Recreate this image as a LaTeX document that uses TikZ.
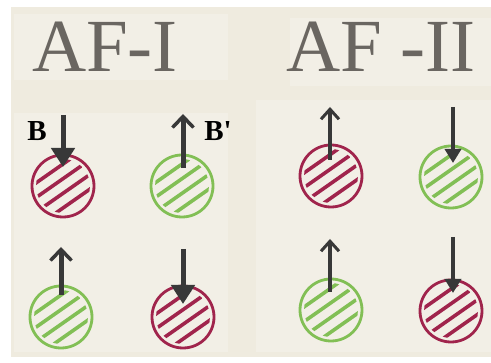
\documentclass[tikz,border=0pt]{standalone}
\usepackage{fontspec}
\newfontfamily\labfont{Liberation Serif}
\usetikzlibrary{arrows.meta}
\definecolor{cream}{HTML}{EFEBDF}
\definecolor{panel}{HTML}{F2EFE6}
\definecolor{spinred}{HTML}{A0244C}
\definecolor{spingreen}{HTML}{82BF55}
\definecolor{arrowgray}{HTML}{383838}
\definecolor{titlegray}{HTML}{6A6661}
\tikzset{
  atom/.style={circle, draw=#1, line width=2.8pt, minimum size=62pt, inner sep=0pt,
    path picture={
      \begin{scope}
        \clip (path picture bounding box.center) circle (27pt);
        \foreach \o in {-18,-6,6,18}{
          \draw[#1, line width=3.6pt]
            ([shift={({\o*0.574pt-36*0.819pt},{-\o*0.819pt-36*0.574pt})}]path picture bounding box.center)
            -- ++(59pt,41.3pt);
        }
      \end{scope}}},
  title/.style={font=\labfont\fontsize{75}{75}\selectfont, text=titlegray, anchor=base, inner sep=0pt},
  lab/.style={font=\labfont\fontsize{29}{29}\selectfont\bfseries, text=black, anchor=base, inner sep=0pt},
  bigdown/.style={draw=arrowgray, line width=5pt, -{Triangle[width=23pt,length=19pt]}},
  bigup/.style={draw=arrowgray, line width=5pt, -{Straight Barb[width=21pt,length=11pt,line width=3.5pt]}},
  smalldown/.style={draw=arrowgray, line width=3.5pt, -{Triangle[width=16pt,length=14pt]}},
  smallup/.style={draw=arrowgray, line width=3.5pt, -{Straight Barb[width=18pt,length=10pt,line width=3pt]}},
}
\begin{document}
\begin{tikzpicture}[x=1pt,y=-1pt]
\useasboundingbox (0,0) rectangle (491,363);
\fill[white] (0,0) rectangle (491,363);
\fill[cream] (11,7) rectangle (491,357);
\fill[panel] (14,14) rectangle (228,80);
\fill[panel] (290,18) rectangle (491,86);
\fill[panel] (14,113) rectangle (228,352);
\fill[panel] (256,100) rectangle (491,352);

\node[title] (t1) at (105,72) {AF-I};
\node[title] (t2) at (381,72) {AF -II};

% AF-I
\node[atom=spinred]   (c11) at (63,186) {};
\node[atom=spingreen] (c12) at (182,186) {};
\node[atom=spingreen] (c21) at (61,317) {};
\node[atom=spinred]   (c22) at (183,317) {};
% AF-II
\node[atom=spinred]   (d11) at (331,176) {};
\node[atom=spingreen] (d12) at (451,177) {};
\node[atom=spingreen] (d21) at (331,310) {};
\node[atom=spinred]   (d22) at (451,311) {};

\coordinate (a1s) at (63,115);  \coordinate (a1e) at (63,167);
\coordinate (a2s) at (183,168); \coordinate (a2e) at (183,114);
\coordinate (a3s) at (61,295);  \coordinate (a3e) at (61,247);
\coordinate (a4s) at (183,249); \coordinate (a4e) at (183,304);
\coordinate (b1s) at (330,160); \coordinate (b1e) at (330,107);
\coordinate (b2s) at (453,107); \coordinate (b2e) at (453,163);
\coordinate (b3s) at (330,292); \coordinate (b3e) at (330,239);
\coordinate (b4s) at (453,237); \coordinate (b4e) at (453,293);

\draw[bigdown] (a1s) -- (a1e);
\draw[bigup] (a2s) -- (a2e);
\draw[bigup] (a3s) -- (a3e);
\draw[bigdown] (a4s) -- (a4e);
\draw[smallup] (b1s) -- (b1e);
\draw[smalldown] (b2s) -- (b2e);
\draw[smallup] (b3s) -- (b3e);
\draw[smalldown] (b4s) -- (b4e);

\node[lab] (B) at (37,141) {B};
\node[lab] (Bp) at (218,141) {B'};
\end{tikzpicture}
\end{document}
